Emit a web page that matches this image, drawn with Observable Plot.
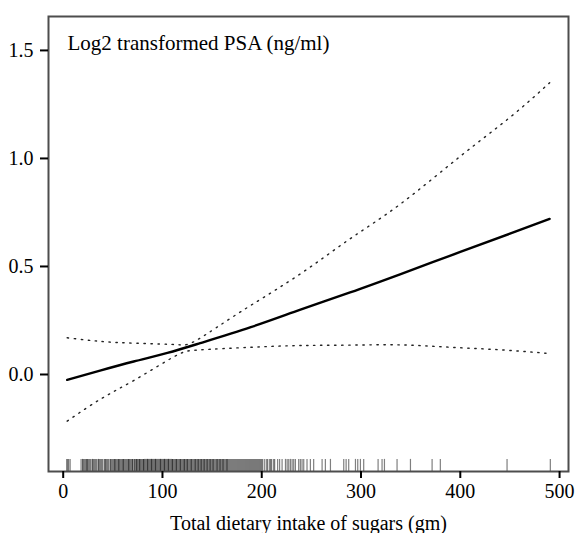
<!DOCTYPE html>
<html>
<head>
<meta charset="utf-8">
<script src="https://cdn.jsdelivr.net/npm/d3@7"></script>
<script src="https://cdn.jsdelivr.net/npm/@observablehq/plot@0.6"></script>
<style>
  html, body { margin: 0; padding: 0; background: #fff; }
  #chart svg { display: block; }
  #chart svg, #chart svg text { font-family: "Liberation Serif", "Times New Roman", serif !important; }
</style>
</head>
<body>
<div id="chart"></div>
<script>
// ---- data ----
const titleText = "Log2 transformed PSA (ng/ml)";
const xLabel = "Total dietary intake of sugars (gm)";
const xTicks = [0, 100, 200, 300, 400, 500];
const yTicks = [0.0, 0.5, 1.0, 1.5];
const xDomain = [-14.8, 509];
const yDomain = [-0.449, 1.657];

// fitted curve
const fitX = [4, 38, 71, 105, 138, 189, 239, 289, 340, 400, 450, 490];
const fitY = [-0.025, 0.019, 0.06, 0.10, 0.145, 0.219, 0.30, 0.38, 0.465, 0.567, 0.652, 0.72];

// upper confidence band
const upX = [4, 38, 71, 105, 118, 130, 155, 189, 239, 289, 340, 400, 450, 490];
const upY = [0.17, 0.153, 0.145, 0.14, 0.137, 0.148, 0.219, 0.32, 0.466, 0.628, 0.79, 1.01, 1.19, 1.35];

// lower confidence band
const loX = [4, 38, 71, 105, 121, 138, 189, 239, 289, 340, 390, 441, 490];
const loY = [-0.216, -0.113, -0.028, 0.065, 0.103, 0.114, 0.126, 0.134, 0.136, 0.137, 0.126, 0.114, 0.097];

// rug of observed intakes
const rug = [3.5, 4.5, 5.5, 7,
  18, 19.5, 21, 22, 24, 25, 27, 28, 29.5, 31, 33, 34, 35.5, 37, 39, 40, 42, 43, 45, 46, 47.5, 49, 50, 52, 53, 55, 56, 58, 59, 60.5,
  62, 63, 65, 66, 67, 69, 70, 71.5, 73, 74, 76, 77, 78, 80, 81, 82, 84, 85, 86, 88, 89, 90, 92, 93, 94, 95, 97, 98, 99,
  101, 102, 103, 105, 106, 107, 109, 110, 111, 113, 114, 115, 117, 118, 119, 121, 122, 124, 125, 126, 128, 129, 130,
  132, 133, 135, 136, 138, 139, 141, 142, 144, 145, 147, 148, 150, 151, 153, 155, 156, 158, 160, 161, 163, 165, 166,
  168, 170, 172, 174, 176, 178, 180, 182, 184, 186, 188, 190, 192, 194, 196, 198, 200,
  203, 206, 208, 210, 213, 216, 218, 220.5, 223.9, 225.6, 227.2, 228.9, 230.6, 232.2, 233.9, 237.2, 238.9, 240.6,
  242.3, 245.6, 249, 252.3, 260.8, 264.1, 269.2, 282.6, 285, 287.6, 294.4, 296.7, 299.4, 302.7, 317.2, 321.2,
  323.6, 336.3, 349.8, 371.6, 379.9, 447.1, 490.7];
// intakes reported by more than one participant (drawn again, darkening the rug)
const rugRepeats = [20, 24, 30, 36, 42, 48, 52, 56, 60, 64, 68, 72, 75, 79, 83, 87, 91, 96, 100, 104, 108, 112,
  116, 120, 123, 127, 131, 134, 137, 140, 143, 146, 149, 152, 154, 157, 159, 162, 164, 167, 171, 175, 179,
  183, 187, 191, 195, 199, 205, 212,
  23, 26, 32, 38, 44, 51, 54, 57, 61, 66, 70, 74, 77, 81, 85, 89, 93, 98, 102, 106, 110, 114, 118, 122, 125,
  129, 133, 136, 139, 142, 145, 148, 151, 155, 158, 161, 165, 169, 173, 177, 181, 185, 189, 193, 197, 201, 209];
const rugHeight = 0.056;

// ---- build tables ----
const fit = fitX.map((x, i) => ({x, y: fitY[i]}));
const upper = upX.map((x, i) => ({x, y: upY[i]}));
const lower = loX.map((x, i) => ({x, y: loY[i]}));
const rugAll = rug.concat(rugRepeats);

const font = "Liberation Serif, Times New Roman, serif";

const chart = Plot.plot({
  width: 577,
  height: 533,
  marginTop: 16,
  marginBottom: 62,
  marginLeft: 48,
  marginRight: 9,
  style: {fontFamily: font, fontSize: "20px", color: "#000", background: "#fff"},
  x: {domain: xDomain},
  y: {domain: yDomain},
  marks: [
    Plot.ruleX(rugAll, {x: d => d, y1: yDomain[0], y2: yDomain[0] + rugHeight, stroke: "#000", strokeOpacity: 0.5, strokeWidth: 1.2}),
    Plot.line(upper, {x: "x", y: "y", curve: "natural", stroke: "#222", strokeWidth: 1.4, strokeDasharray: "1.4,5.6"}),
    Plot.line(lower, {x: "x", y: "y", curve: "natural", stroke: "#222", strokeWidth: 1.4, strokeDasharray: "1.4,5.6"}),
    Plot.line(fit, {x: "x", y: "y", curve: "natural", stroke: "#000", strokeWidth: 2.4}),
    Plot.frame({stroke: "#4d4d4d", strokeWidth: 2}),
    Plot.axisX({ticks: xTicks, tickSize: 7, tickPadding: 5, strokeWidth: 2, label: xLabel,
      labelAnchor: "center", labelArrow: "none", labelOffset: 58, fontSize: 20}),
    Plot.axisY({ticks: yTicks, tickFormat: d3.format(".1f"), tickSize: 8, tickPadding: 7, strokeWidth: 2, label: null, fontSize: 20}),
    Plot.text([titleText], {frameAnchor: "top-left", text: d => d, dx: 19, dy: 19, lineAnchor: "top",
      textAnchor: "start", fontSize: 21, fill: "#000"})
  ]
});

chart.setAttribute("font-family", font);
document.getElementById("chart").appendChild(chart);
</script>
</body>
</html>
